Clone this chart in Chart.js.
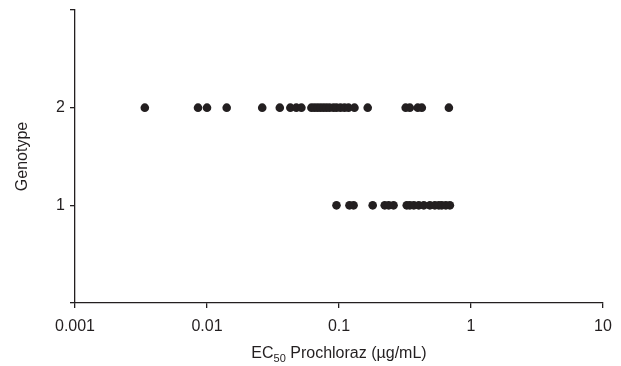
<!DOCTYPE html>
<html>
<head>
<meta charset="utf-8">
<script src="https://cdn.jsdelivr.net/npm/chart.js@4.4.1/dist/chart.umd.min.js"></script>
<style>
  html, body { margin: 0; padding: 0; background: #fff; }
  #wrap { width: 621px; height: 366px; }
</style>
</head>
<body>
<div id="wrap"><canvas id="ec50"></canvas></div>
<script>
// EC50 values (µg/mL), per genotype
const genotype2 = [
  0.00338, 0.00855, 0.0100, 0.0141, 0.0262, 0.0356, 0.0428, 0.0475, 0.0519,
  0.0618, 0.0651, 0.0686, 0.0723, 0.0762, 0.0803, 0.0847, 0.0908, 0.0957,
  0.1026, 0.110, 0.118, 0.131, 0.165, 0.320, 0.344, 0.395, 0.424, 0.680
];
const genotype1 = [
  0.0957, 0.120, 0.129, 0.180, 0.222, 0.238, 0.259, 0.326, 0.344, 0.369,
  0.402, 0.439, 0.488, 0.532, 0.571, 0.601, 0.645, 0.692
];
const xTicks = [0.001, 0.01, 0.1, 1, 10];
const yTicks = [1, 2];

const ink = '#231f20';
const font = { family: '"Liberation Sans", Arial, sans-serif', size: 16 };

// x title with subscript, drawn below the axis
const xTitle = {
  id: 'xTitle',
  afterDraw(chart) {
    const ctx = chart.ctx;
    const area = chart.chartArea;
    const parts = [
      { t: 'EC', size: 16, dy: 0 },
      { t: '50', size: 11, dy: 4 },
      { t: ' Prochloraz (\u00b5g/mL)', size: 16, dy: 0 },
    ];
    ctx.save();
    ctx.fillStyle = ink;
    ctx.textBaseline = 'alphabetic';
    let total = 0;
    parts.forEach(p => {
      ctx.font = `${p.size}px ${font.family}`;
      p.w = ctx.measureText(p.t).width;
      total += p.w;
    });
    let x = (area.left + area.right) / 2 - total / 2;
    const y = 358;
    parts.forEach(p => {
      ctx.font = `${p.size}px ${font.family}`;
      ctx.fillText(p.t, x, y + p.dy);
      x += p.w;
    });
    ctx.restore();
  }
};

new Chart(document.getElementById('ec50'), {
  type: 'scatter',
  data: {
    datasets: [
      { label: 'Genotype 2', data: genotype2.map(v => ({ x: v, y: 2 })) },
      { label: 'Genotype 1', data: genotype1.map(v => ({ x: v, y: 1 })) },
    ]
  },
  options: {
    responsive: true,
    maintainAspectRatio: false,
    animation: false,
    layout: { padding: { top: 10, right: 18, left: 0, bottom: 0 } },
    elements: {
      point: { radius: 4.3, backgroundColor: ink, borderColor: ink, borderWidth: 0 }
    },
    plugins: { legend: { display: false }, tooltip: { enabled: false } },
    scales: {
      x: {
        type: 'logarithmic',
        min: 0.001,
        max: 10,
        afterBuildTicks: (scale) => { scale.ticks = xTicks.map(v => ({ value: v })); },
        afterFit: (scale) => { scale.height = 63; },
        border: { color: ink, width: 1.3 },
        grid: { drawOnChartArea: false, tickLength: 5, color: ink, lineWidth: 1.3 },
        ticks: {
          color: ink, font, padding: 9, maxRotation: 0,
          callback: (v) => String(v)
        }
      },
      y: {
        min: 0,
        max: 3,
        afterBuildTicks: (scale) => { scale.ticks = [0, 1, 2, 3].map(v => ({ value: v })); },
        afterFit: (scale) => {
          scale.width = 75;
          scale.paddingTop = 0;
          scale.paddingBottom = 0;
        },
        border: { color: ink, width: 1.3 },
        grid: { drawOnChartArea: false, tickLength: 5, color: ink, lineWidth: 1.3 },
        ticks: {
          color: ink, font, padding: 5,
          callback: (v) => yTicks.includes(v) ? String(v) : ''
        },
        title: { display: true, text: 'Genotype', color: ink, font, padding: { top: 13, bottom: 0 } }
      }
    }
  },
  plugins: [xTitle]
});
</script>
</body>
</html>
